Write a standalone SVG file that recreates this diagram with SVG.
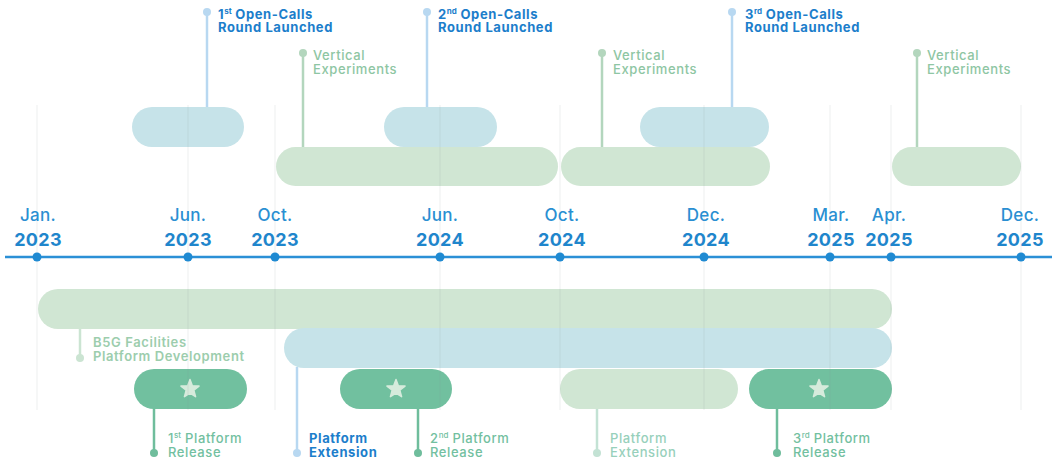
<svg xmlns="http://www.w3.org/2000/svg" width="1057" height="462" viewBox="0 0 1057 462">
<defs>
<style>
text{font-family:Inter,"Open Sans","Liberation Sans",sans-serif}
.mon{font-size:17px;font-weight:500;fill:#2a8fd2;text-anchor:middle;letter-spacing:0.3px}
.yr{font-size:18px;font-weight:700;fill:#1f86cc;text-anchor:middle;letter-spacing:0.3px}
.oc{font-size:13px;font-weight:700;fill:#1c7ecb;letter-spacing:0.6px}
.ve{font-size:13px;font-weight:500;fill:#8ec6a3;letter-spacing:0.6px}
.pr{font-size:13px;font-weight:500;fill:#72c0a0;letter-spacing:0.6px}
.pe{font-size:13px;font-weight:500;fill:#97d0bb;letter-spacing:0.6px}
.b5{font-size:13px;font-weight:600;fill:#9ccdad;letter-spacing:0.6px}
.sup{font-size:8px;letter-spacing:0}
.pb{fill:#c6e3e9}
.pg{fill:#d0e6d3}
.pd{fill:#71c09f}
.grid{stroke:#8a9a9a;stroke-opacity:0.15;stroke-width:1}
.lb{stroke:#b8d8f1;stroke-width:2.5}
.lv{stroke:#b3d6bd;stroke-width:2.5}
.ld{stroke:#6fbd9c;stroke-width:2.5}
.ll{stroke:#c3e2d4;stroke-width:2.5}
.l5{stroke:#cbe4d2;stroke-width:2.5}
</style>
<polygon id="star" points="0,-9.5 2.35,-3.24 9.04,-2.94 3.8,1.24 5.58,7.69 0,4 -5.58,7.69 -3.8,1.24 -9.04,-2.94 -2.35,-3.24" fill="#d6ebdc" stroke="#d6ebdc" stroke-width="1.5" stroke-linejoin="round"/>
</defs>
<rect width="1057" height="462" fill="#ffffff"/>

<g id="connectors">
<line class="lb" x1="207" y1="12" x2="207" y2="108"/><circle cx="207" cy="12" r="4" fill="#b8d8f1"/>
<line class="lv" x1="303" y1="53" x2="303" y2="148"/><circle cx="303" cy="53" r="4" fill="#b3d6bd"/>
<line class="lb" x1="427" y1="12" x2="427" y2="108"/><circle cx="427" cy="12" r="4" fill="#b8d8f1"/>
<line class="lv" x1="602" y1="53" x2="602" y2="148"/><circle cx="602" cy="53" r="4" fill="#b3d6bd"/>
<line class="lb" x1="732" y1="12" x2="732" y2="108"/><circle cx="732" cy="12" r="4" fill="#b8d8f1"/>
<line class="lv" x1="917" y1="53" x2="917" y2="148"/><circle cx="917" cy="53" r="4" fill="#b3d6bd"/>
<line class="l5" x1="80" y1="328" x2="80" y2="358"/><circle cx="80" cy="358" r="4" fill="#cbe4d2"/>
<line class="ld" x1="154" y1="408" x2="154" y2="453"/><circle cx="154" cy="453" r="4" fill="#6fbd9c"/>
<line class="lb" x1="297" y1="367" x2="297" y2="453"/><circle cx="297" cy="453" r="4" fill="#b8d8f1"/>
<line class="ld" x1="418" y1="408" x2="418" y2="453"/><circle cx="418" cy="453" r="4" fill="#6fbd9c"/>
<line class="ll" x1="597" y1="408" x2="597" y2="453"/><circle cx="597" cy="453" r="4" fill="#c3e2d4"/>
<line class="ld" x1="777" y1="408" x2="777" y2="453"/><circle cx="777" cy="453" r="4" fill="#6fbd9c"/>
</g>

<g id="top-bars">
<rect id="call1" class="pb" x="132" y="107" width="112" height="40" rx="20"/>
<rect id="call2" class="pb" x="384" y="107" width="113" height="40" rx="20"/>
<rect id="call3" class="pb" x="640" y="107" width="129" height="40" rx="20"/>
<rect id="ve1" class="pg" x="276" y="147" width="282" height="39" rx="19.5"/>
<rect id="ve2" class="pg" x="561" y="147" width="209" height="39" rx="19.5"/>
<rect id="ve3" class="pg" x="892" y="147" width="129" height="39" rx="19.5"/>
</g>

<g id="bottom-bars">
<rect id="b5g" class="pg" x="38" y="289" width="854" height="40" rx="20"/>
<rect id="ext" class="pb" x="284" y="328" width="608" height="40" rx="20"/>
<g id="rel1"><rect class="pd" x="134" y="369" width="113" height="40" rx="20"/><use href="#star" x="190" y="389"/></g>
<g id="rel2"><rect class="pd" x="340" y="369" width="112" height="40" rx="20"/><use href="#star" x="396" y="389"/></g>
<rect id="ext2" class="pg" x="560" y="369" width="178" height="40" rx="20"/>
<g id="rel3"><rect class="pd" x="749" y="369" width="143" height="40" rx="20"/><use href="#star" x="819" y="389"/></g>
</g>

<g id="grid">
<line class="grid" x1="37" y1="105" x2="37" y2="410"/>
<line class="grid" x1="188" y1="105" x2="188" y2="410"/>
<line class="grid" x1="275" y1="105" x2="275" y2="410"/>
<line class="grid" x1="440" y1="105" x2="440" y2="410"/>
<line class="grid" x1="560" y1="105" x2="560" y2="410"/>
<line class="grid" x1="704" y1="105" x2="704" y2="410"/>
<line class="grid" x1="830" y1="105" x2="830" y2="410"/>
<line class="grid" x1="891" y1="105" x2="891" y2="410"/>
<line class="grid" x1="1021" y1="105" x2="1021" y2="410"/>
</g>

<g id="axis">
<line x1="5" y1="257" x2="1052" y2="257" stroke="#2b90d6" stroke-width="2.5"/>
<g fill="#1f8ad2">
<circle cx="37" cy="257" r="4.5"/><circle cx="188" cy="257" r="4.5"/><circle cx="275" cy="257" r="4.5"/>
<circle cx="440" cy="257" r="4.5"/><circle cx="560" cy="257" r="4.5"/><circle cx="704" cy="257" r="4.5"/>
<circle cx="830" cy="257" r="4.5"/><circle cx="891" cy="257" r="4.5"/><circle cx="1021" cy="257" r="4.5"/>
</g>
</g>

<g id="dates">
<text class="mon" x="38" y="221">Jan.</text><text class="yr" x="38" y="246">2023</text>
<text class="mon" x="188" y="221">Jun.</text><text class="yr" x="188" y="246">2023</text>
<text class="mon" x="275" y="221">Oct.</text><text class="yr" x="275" y="246">2023</text>
<text class="mon" x="440" y="221">Jun.</text><text class="yr" x="440" y="246">2024</text>
<text class="mon" x="562" y="221">Oct.</text><text class="yr" x="562" y="246">2024</text>
<text class="mon" x="706" y="221">Dec.</text><text class="yr" x="706" y="246">2024</text>
<text class="mon" x="831" y="221">Mar.</text><text class="yr" x="831" y="246">2025</text>
<text class="mon" x="889" y="221">Apr.</text><text class="yr" x="889" y="246">2025</text>
<text class="mon" x="1020" y="221">Dec.</text><text class="yr" x="1020" y="246">2025</text>
</g>

<g id="label-call1"><text class="oc" x="218" y="19">1<tspan class="sup" baseline-shift="5">st</tspan> Open-Calls</text><text class="oc" x="218" y="32">Round Launched</text></g>
<g id="label-call2"><text class="oc" x="438" y="19">2<tspan class="sup" baseline-shift="5">nd</tspan> Open-Calls</text><text class="oc" x="438" y="32">Round Launched</text></g>
<g id="label-call3"><text class="oc" x="745" y="19">3<tspan class="sup" baseline-shift="5">rd</tspan> Open-Calls</text><text class="oc" x="745" y="32">Round Launched</text></g>
<g id="label-ve1"><text class="ve" x="313" y="60">Vertical</text><text class="ve" x="313" y="74">Experiments</text></g>
<g id="label-ve2"><text class="ve" x="613" y="60">Vertical</text><text class="ve" x="613" y="74">Experiments</text></g>
<g id="label-ve3"><text class="ve" x="927" y="60">Vertical</text><text class="ve" x="927" y="74">Experiments</text></g>
<g id="label-b5g"><text class="b5" x="93" y="347">B5G Facilities</text><text class="b5" x="93" y="361">Platform Development</text></g>
<g id="label-rel1"><text class="pr" x="168" y="443">1<tspan class="sup" baseline-shift="5">st</tspan> Platform</text><text class="pr" x="168" y="457">Release</text></g>
<g id="label-ext"><text class="oc" x="309" y="443">Platform</text><text class="oc" x="309" y="457">Extension</text></g>
<g id="label-rel2"><text class="pr" x="430" y="443">2<tspan class="sup" baseline-shift="5">nd</tspan> Platform</text><text class="pr" x="430" y="457">Release</text></g>
<g id="label-ext2"><text class="pe" x="610" y="443">Platform</text><text class="pe" x="610" y="457">Extension</text></g>
<g id="label-rel3"><text class="pr" x="793" y="443">3<tspan class="sup" baseline-shift="5">rd</tspan> Platform</text><text class="pr" x="793" y="457">Release</text></g>
</svg>
